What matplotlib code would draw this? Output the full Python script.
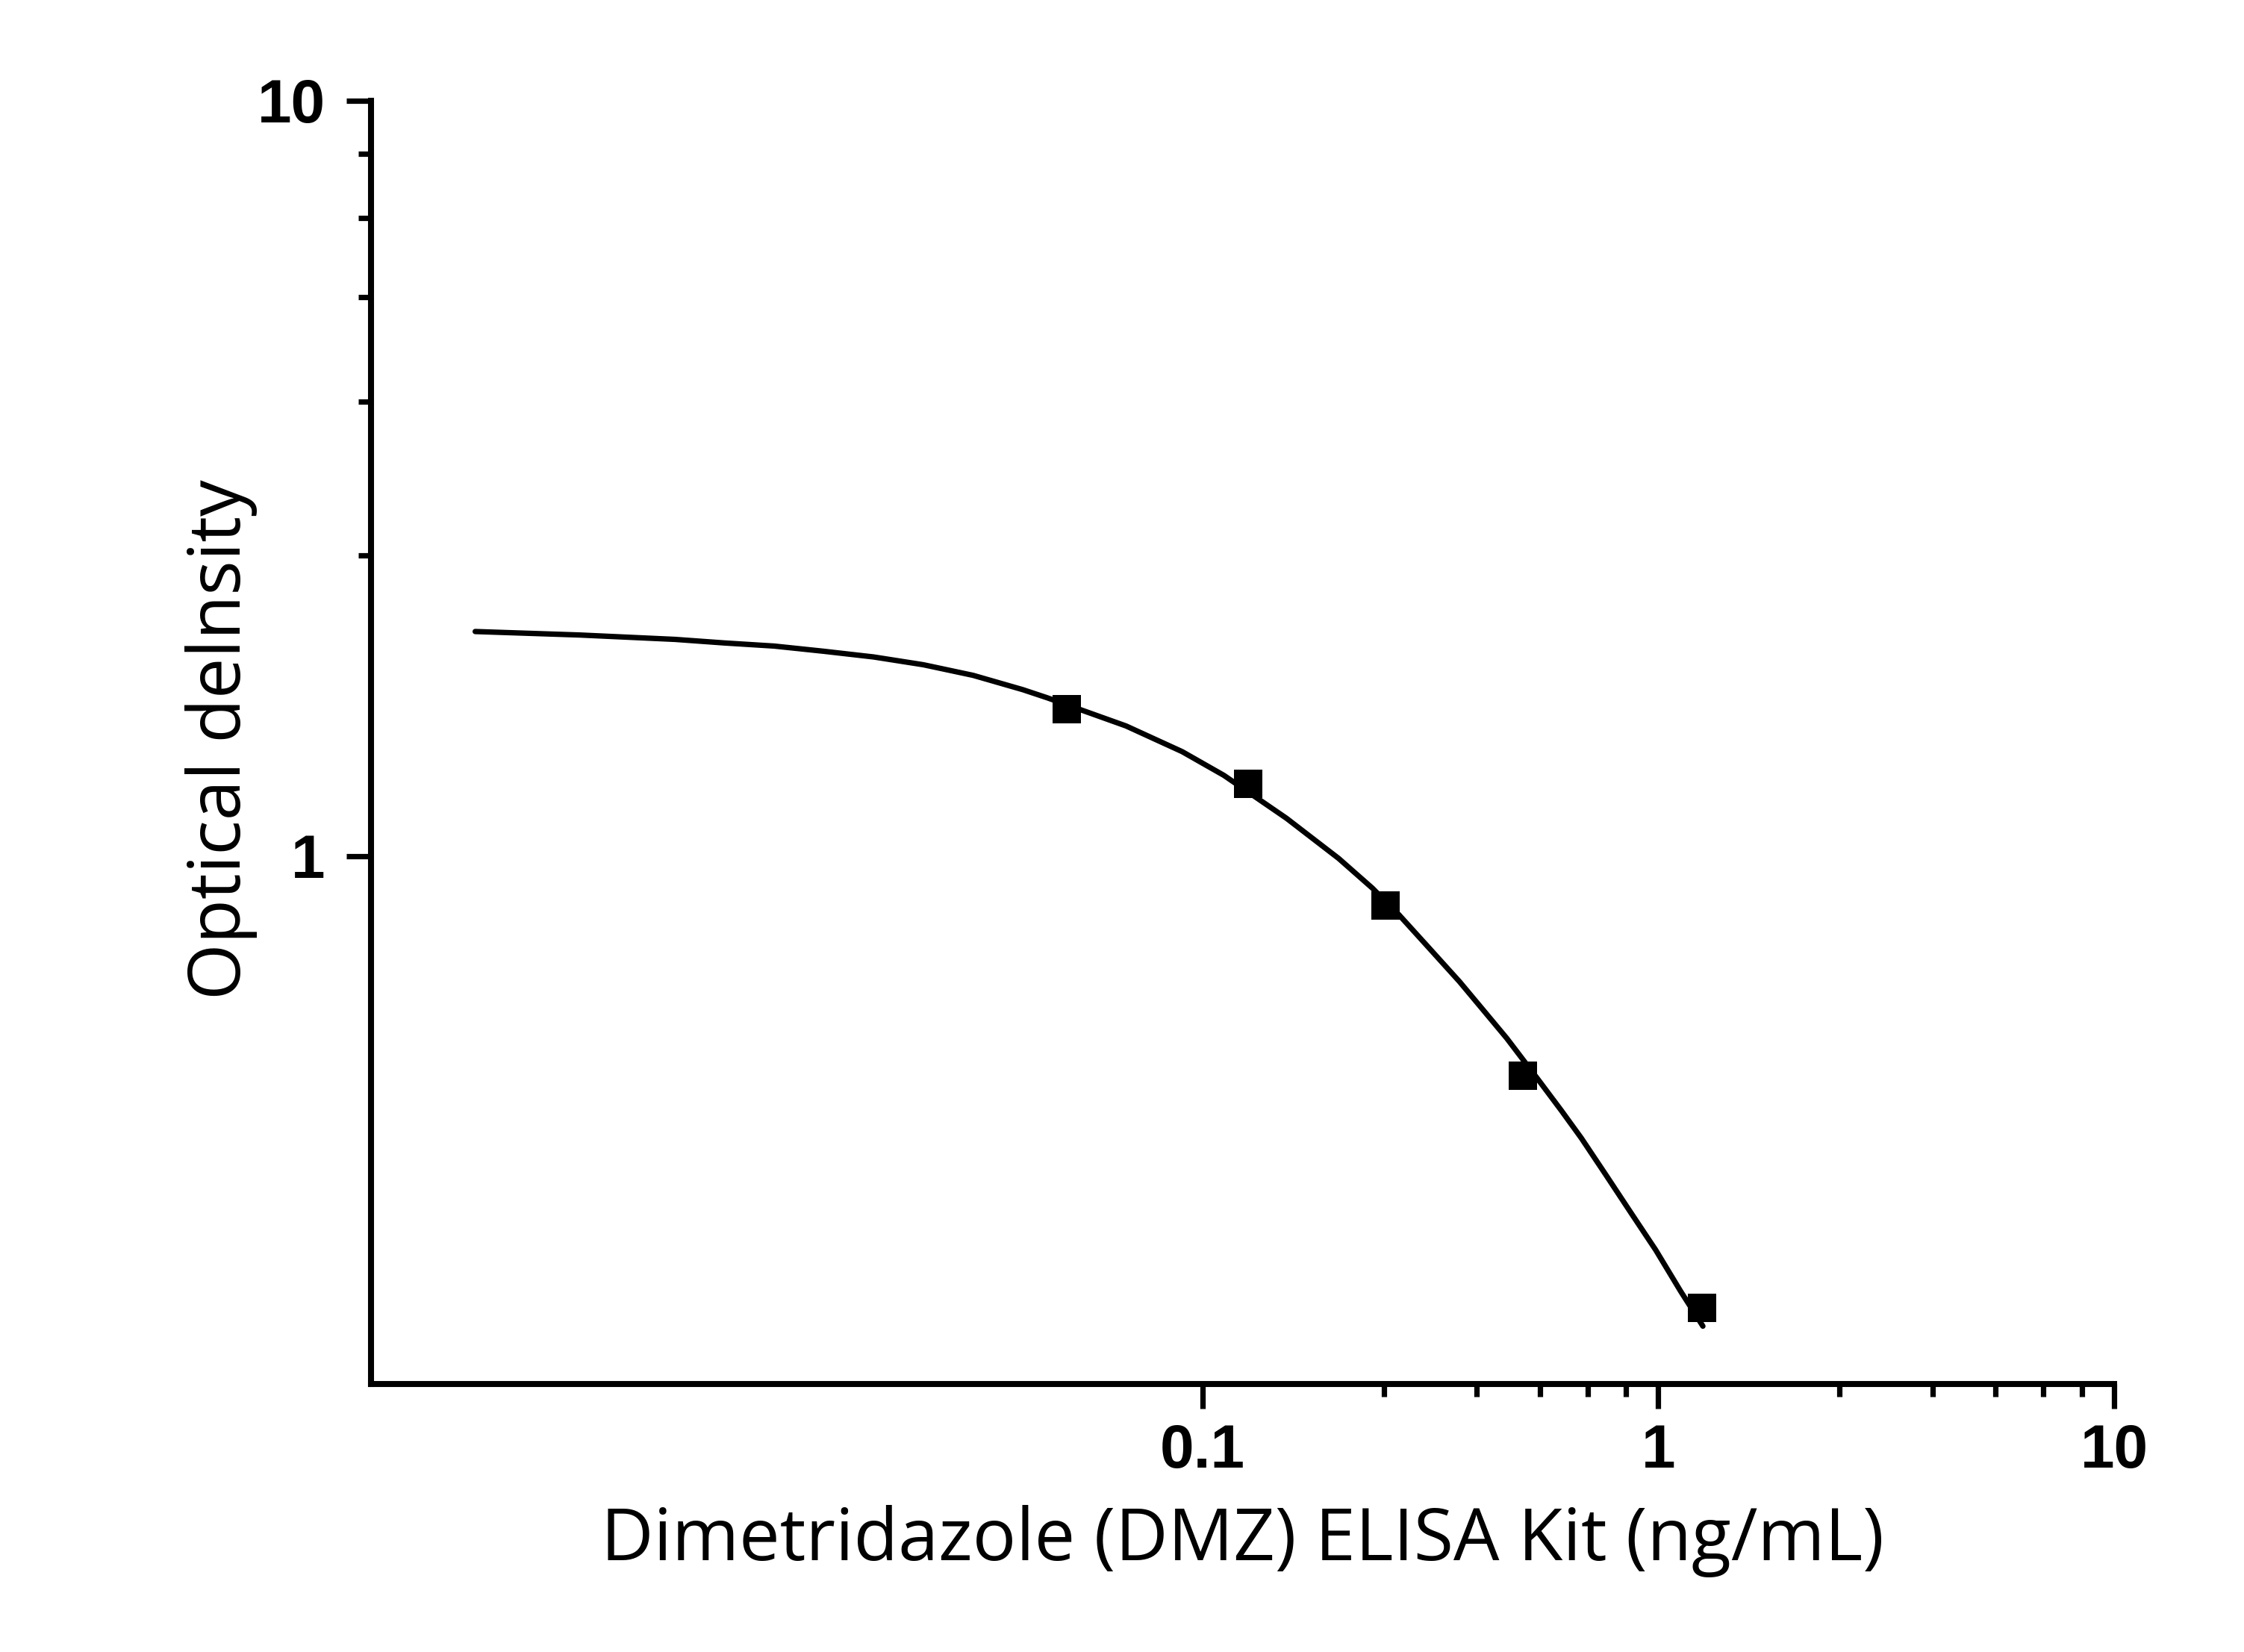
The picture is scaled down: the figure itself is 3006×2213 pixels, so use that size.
import numpy as np
import matplotlib
matplotlib.use('Agg')
import matplotlib.pyplot as plt
from matplotlib.ticker import FixedLocator, FixedFormatter, NullFormatter

# measured standards
conc = [0.0505, 0.126, 0.252, 0.505, 1.25]
od = [1.566, 1.247, 0.860, 0.512, 0.252]

# fitted curve
fit_x = [0.00254, 0.00431, 0.00697, 0.00895, 0.0115, 0.01479, 0.01901, 0.02443,
         0.03141, 0.04036, 0.04571, 0.0680, 0.0903, 0.1115, 0.153, 0.199,
         0.236, 0.270, 0.311, 0.3665, 0.4104, 0.4654, 0.5477, 0.6132,
         0.6781, 0.7686, 0.871, 0.9876, 1.1194, 1.2531]
fit_y = [1.983, 1.962, 1.936, 1.915, 1.897, 1.867, 1.835, 1.792,
         1.735, 1.661, 1.620, 1.487, 1.375, 1.279, 1.122, 0.993,
         0.907, 0.836, 0.761, 0.682, 0.6285, 0.5738, 0.5042, 0.4603,
         0.4233, 0.3780, 0.3372, 0.3009, 0.2655, 0.2386]

x_major = [0.1, 1, 10]
x_major_labels = ['0.1', '1', '10']
x_minor = [0.25, 0.4, 0.55, 0.7, 0.85, 2.5, 4, 5.5, 7, 8.5]
y_major = [1, 10]
y_major_labels = ['1', '10']
y_minor = [2.5, 4, 5.5, 7, 8.5]

TICKFONT = 'Liberation Sans'
LABELFONT = 'Open Sans'

fig = plt.figure(figsize=(15.03, 11.065), dpi=200)
ax = fig.add_axes([0.1653, 0.1622, 0.9421 - 0.1653, 0.939 - 0.1622])

ax.plot(fit_x, fit_y, color='black', linewidth=2.6, solid_joinstyle='round',
        solid_capstyle='round', zorder=3)
ax.plot(conc, od, linestyle='none', marker='s', markersize=13.5,
        markerfacecolor='black', markeredgecolor='black', markeredgewidth=0, zorder=4)

ax.set_xscale('log')
ax.set_yscale('log')
ax.set_xlim(0.0015, 10)
ax.set_ylim(0.2, 10)

ax.xaxis.set_major_locator(FixedLocator(x_major))
ax.xaxis.set_major_formatter(FixedFormatter(x_major_labels))
ax.xaxis.set_minor_locator(FixedLocator(x_minor))
ax.xaxis.set_minor_formatter(NullFormatter())
ax.yaxis.set_major_locator(FixedLocator(y_major))
ax.yaxis.set_major_formatter(FixedFormatter(y_major_labels))
ax.yaxis.set_minor_locator(FixedLocator(y_minor))
ax.yaxis.set_minor_formatter(NullFormatter())

ax.tick_params(which='major', direction='out', length=12, width=2.6, color='black')
ax.tick_params(which='minor', direction='out', length=6, width=2.6, color='black')
ax.tick_params(axis='x', which='major', pad=7)
ax.tick_params(axis='y', which='major', pad=10)

for lab in ax.get_xticklabels() + ax.get_yticklabels():
    lab.set_fontfamily(TICKFONT)
    lab.set_fontweight('bold')
    lab.set_fontsize(29.5)

for side in ['top', 'right']:
    ax.spines[side].set_visible(False)
for side in ['left', 'bottom']:
    ax.spines[side].set_linewidth(2.9)
    ax.spines[side].set_capstyle('projecting')

fig.text(0.5537, 0.0556, 'Dimetridazole (DMZ) ELISA Kit (ng/mL)',
         fontsize=35, fontfamily=LABELFONT, ha='center', va='baseline')
fig.text(0.0986, 0.5522, 'Optical delnsity', rotation=90,
         fontsize=35, fontfamily=LABELFONT, ha='center', va='center')

fig.savefig('out.png', dpi=200, facecolor='white')
